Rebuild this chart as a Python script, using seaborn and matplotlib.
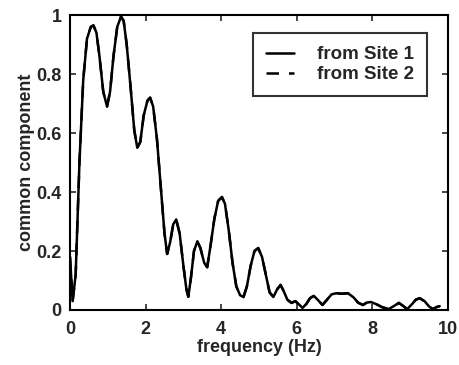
import matplotlib
matplotlib.use("Agg")
import matplotlib.pyplot as plt
import seaborn as sns
import pandas as pd

freq = [0.00, 0.07, 0.15, 0.25, 0.35, 0.45, 0.55, 0.62, 0.70, 0.78, 0.88, 0.98,
        1.06, 1.15, 1.25, 1.35, 1.42, 1.50, 1.60, 1.70, 1.78, 1.86, 1.95, 2.05,
        2.12, 2.20, 2.30, 2.40, 2.50, 2.57, 2.65, 2.73, 2.81, 2.90, 3.00, 3.08,
        3.13, 3.20, 3.28, 3.37, 3.45, 3.55, 3.63, 3.72, 3.82, 3.92, 4.02, 4.10,
        4.20, 4.30, 4.40, 4.50, 4.59, 4.68, 4.78, 4.88, 4.98, 5.08, 5.18, 5.28,
        5.38, 5.48, 5.57, 5.65, 5.75, 5.86, 5.96, 6.05, 6.15, 6.25, 6.35, 6.45,
        6.55, 6.68, 6.80, 6.92, 7.05, 7.20, 7.35, 7.50, 7.62, 7.75, 7.85, 7.96,
        8.10, 8.25, 8.43, 8.55, 8.70, 8.80, 8.92, 9.05, 9.15, 9.25, 9.38, 9.50,
        9.60, 9.70, 9.78]
site1 = [0.18, 0.03, 0.12, 0.50, 0.78, 0.92, 0.96, 0.965, 0.94, 0.86, 0.74, 0.69,
         0.74, 0.86, 0.96, 0.995, 0.98, 0.90, 0.76, 0.61, 0.55, 0.57, 0.66, 0.71,
         0.72, 0.69, 0.58, 0.42, 0.26, 0.19, 0.23, 0.29, 0.307, 0.26, 0.15, 0.07,
         0.045, 0.11, 0.20, 0.233, 0.21, 0.16, 0.145, 0.22, 0.31, 0.37, 0.383, 0.36,
         0.27, 0.16, 0.08, 0.05, 0.044, 0.08, 0.15, 0.20, 0.21, 0.18, 0.12, 0.06,
         0.044, 0.07, 0.085, 0.065, 0.035, 0.024, 0.03, 0.02, 0.007, 0.02, 0.04, 0.048,
         0.035, 0.017, 0.035, 0.053, 0.057, 0.055, 0.057, 0.043, 0.025, 0.017, 0.025, 0.027,
         0.02, 0.01, 0.003, 0.012, 0.024, 0.015, 0.003, 0.02, 0.035, 0.04, 0.03, 0.012,
         0.003, 0.01, 0.013]
# Site 2 lies on top of Site 1 in the picture
site2 = list(site1)

labels = ["from Site 1", "from Site 2"]
xticks = [0, 2, 4, 6, 8, 10]
yticks = [0, 0.2, 0.4, 0.6, 0.8, 1]
yticklabels = ["0", "0.2", "0.4", "0.6", "0.8", "1"]

df = pd.concat([
    pd.DataFrame({"freq": freq, "val": site1, "src": labels[0]}),
    pd.DataFrame({"freq": freq, "val": site2, "src": labels[1]}),
])

sns.set_style("ticks")
plt.rcParams["font.family"] = ["Liberation Sans", "DejaVu Sans"]
plt.rcParams["font.weight"] = "bold"

fig = plt.figure(figsize=(4.59, 3.65), dpi=100)
ax = fig.add_axes([0.1525, 0.1507, 0.8235, 0.808])

sns.lineplot(data=df, x="freq", y="val", hue="src", style="src",
             palette=["black", "black"], dashes=[(None, None), (5, 4)],
             linewidth=1.8, ax=ax, legend=True)

ax.set_xlim(0, 10)
ax.set_ylim(0, 1)
ax.set_xticks(xticks)
ax.set_xticklabels([str(t) for t in xticks], fontsize=13, fontweight="bold")
ax.set_yticks(yticks)
ax.set_yticklabels(yticklabels, fontsize=13, fontweight="bold")
ax.tick_params(axis="x", direction="in", top=True, length=4, width=1.2, pad=8)
ax.tick_params(axis="y", direction="in", right=True, length=4, width=1.2, pad=6)
for s in ax.spines.values():
    s.set_visible(True)
    s.set_linewidth(1.5)
    s.set_color("black")

ax.set_xlabel("frequency (Hz)", fontsize=13, fontweight="bold", labelpad=1)
ax.set_ylabel("common component", fontsize=13, fontweight="bold", labelpad=1)

leg = ax.legend(loc="upper right", bbox_to_anchor=(0.944, 0.939), fontsize=13.5,
                frameon=True, fancybox=False, edgecolor="black",
                handlelength=1.5, handletextpad=1.2, borderpad=0.7,
                labelspacing=0.15, borderaxespad=0)
leg.get_frame().set_linewidth(1.5)
for t in leg.get_texts():
    t.set_fontweight("bold")

fig.savefig("out.png", dpi=100)
